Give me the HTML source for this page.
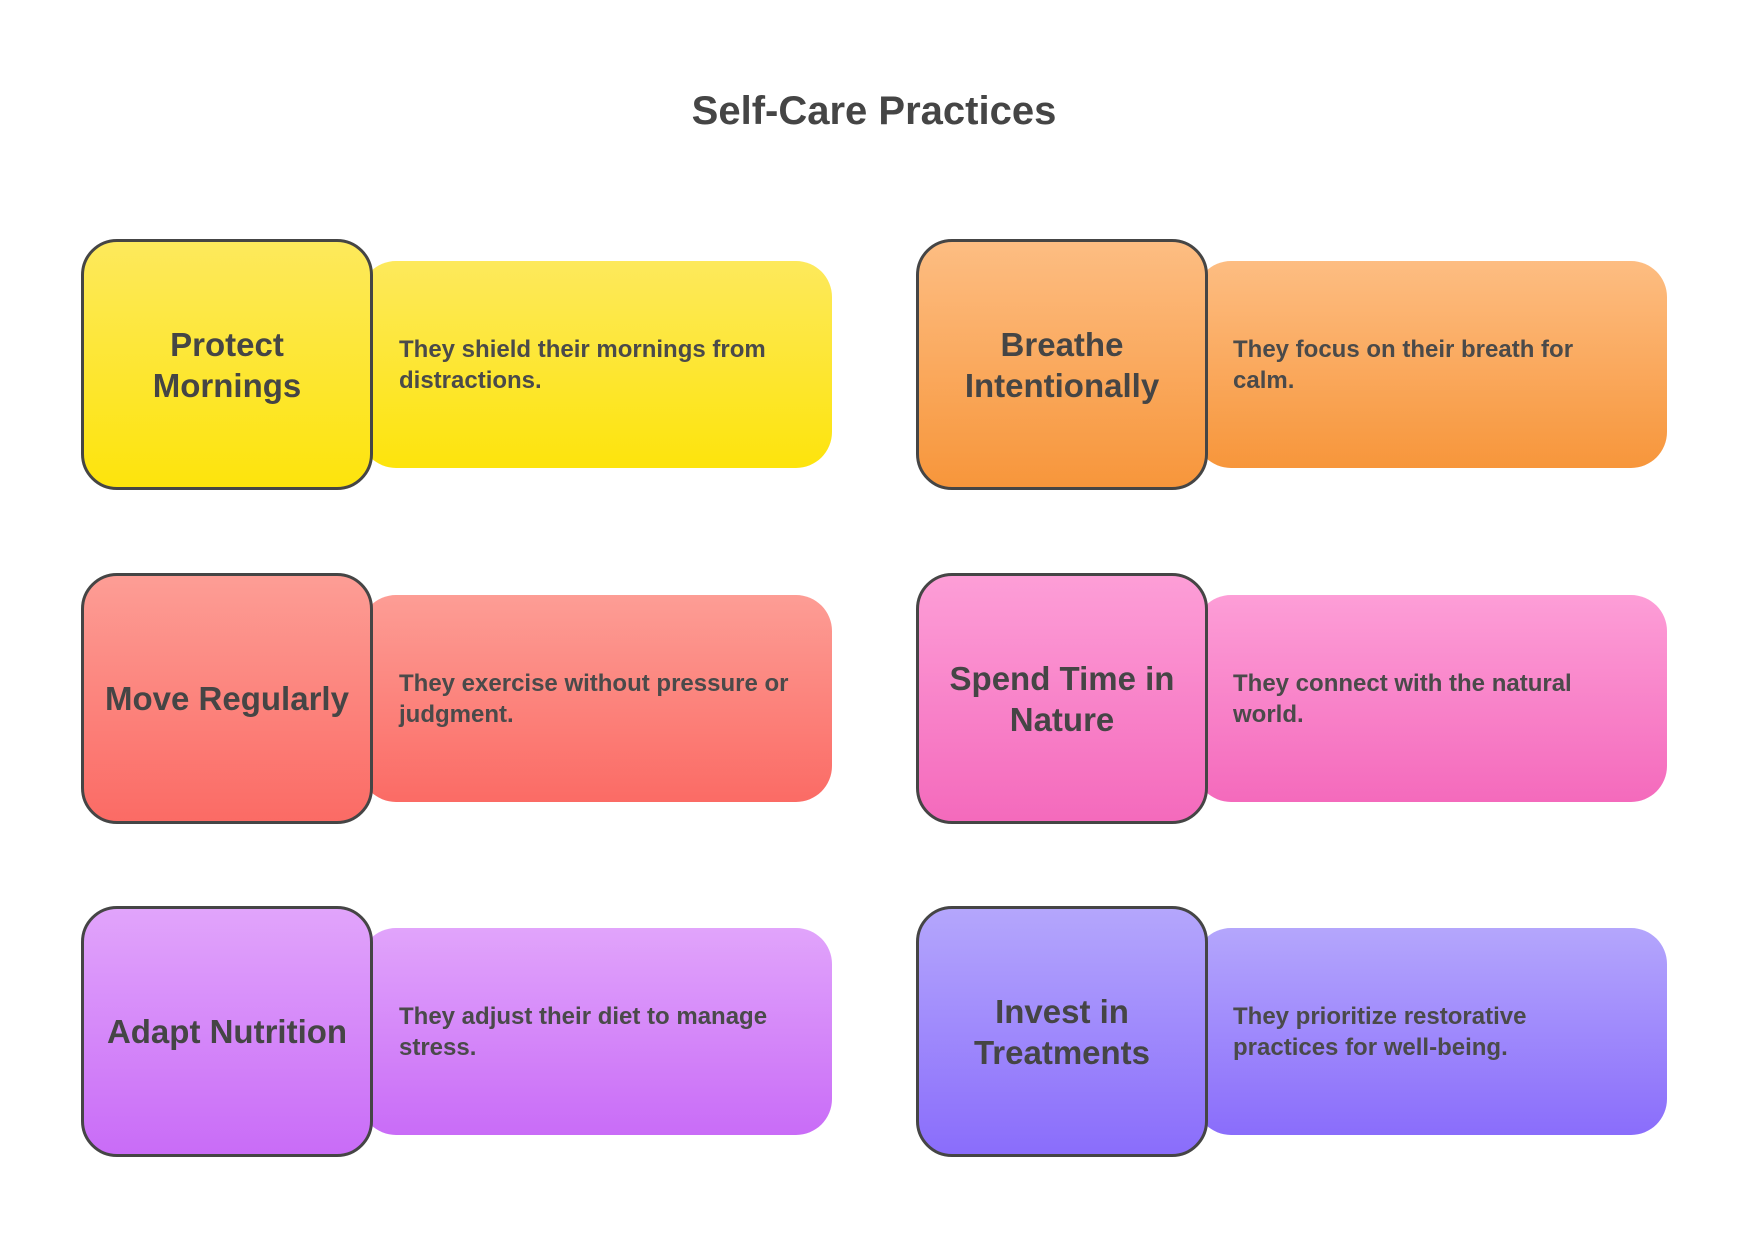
<!DOCTYPE html>
<html><head><style>
body{margin:0;width:1748px;height:1240px;background:#fff;font-family:"Liberation Sans",sans-serif;position:relative;overflow:hidden}
.t{position:absolute;left:0;width:1748px;top:89px;text-align:center;font-size:40px;font-weight:bold;color:#454545}
.r{position:absolute;width:472px;height:207px;border-radius:36px;box-sizing:border-box;padding:0 40px 0 26px;display:flex;align-items:center;font-size:24px;font-weight:bold;color:#4a4a4a;line-height:31px}
.b{position:absolute;width:292px;height:251px;border:3px solid #454545;border-radius:36px;box-sizing:border-box;display:flex;align-items:center;justify-content:center;text-align:center;font-size:33px;font-weight:bold;color:#454545;line-height:41px;padding:0 8px}
</style></head><body>
<div class="t">Self-Care Practices</div>

<div class="r" style="left:360px;top:261px;background:linear-gradient(#fde95c,#fde40c);padding-left:39px">They shield their mornings from distractions.</div>
<div class="b" style="left:81px;top:239px;background:linear-gradient(#fde95c,#fde40c)">Protect Mornings</div>

<div class="r" style="left:1195px;top:261px;background:linear-gradient(#fdbd82,#f7963b);padding-left:38px">They focus on their breath for<br>calm.</div>
<div class="b" style="left:916px;top:239px;background:linear-gradient(#fdbd82,#f7963b)">Breathe Intentionally</div>

<div class="r" style="left:360px;top:595px;background:linear-gradient(#fd9d95,#fb6b65);padding-left:39px">They exercise without pressure or judgment.</div>
<div class="b" style="left:81px;top:573px;background:linear-gradient(#fd9d95,#fb6b65)">Move Regularly</div>

<div class="r" style="left:1195px;top:595px;background:linear-gradient(#fd9ed7,#f46abc);padding-left:38px">They connect with the natural<br>world.</div>
<div class="b" style="left:916px;top:573px;background:linear-gradient(#fd9ed7,#f46abc)">Spend Time in Nature</div>

<div class="r" style="left:360px;top:928px;background:linear-gradient(#e1a4fb,#c96cf7);padding-left:39px">They adjust their diet to manage<br>stress.</div>
<div class="b" style="left:81px;top:906px;background:linear-gradient(#e1a4fb,#c96cf7)">Adapt Nutrition</div>

<div class="r" style="left:1195px;top:928px;background:linear-gradient(#b4a6fc,#8a6dfb);padding-left:38px">They prioritize restorative<br>practices for well-being.</div>
<div class="b" style="left:916px;top:906px;background:linear-gradient(#b4a6fc,#8a6dfb)">Invest in Treatments</div>
</body></html>
